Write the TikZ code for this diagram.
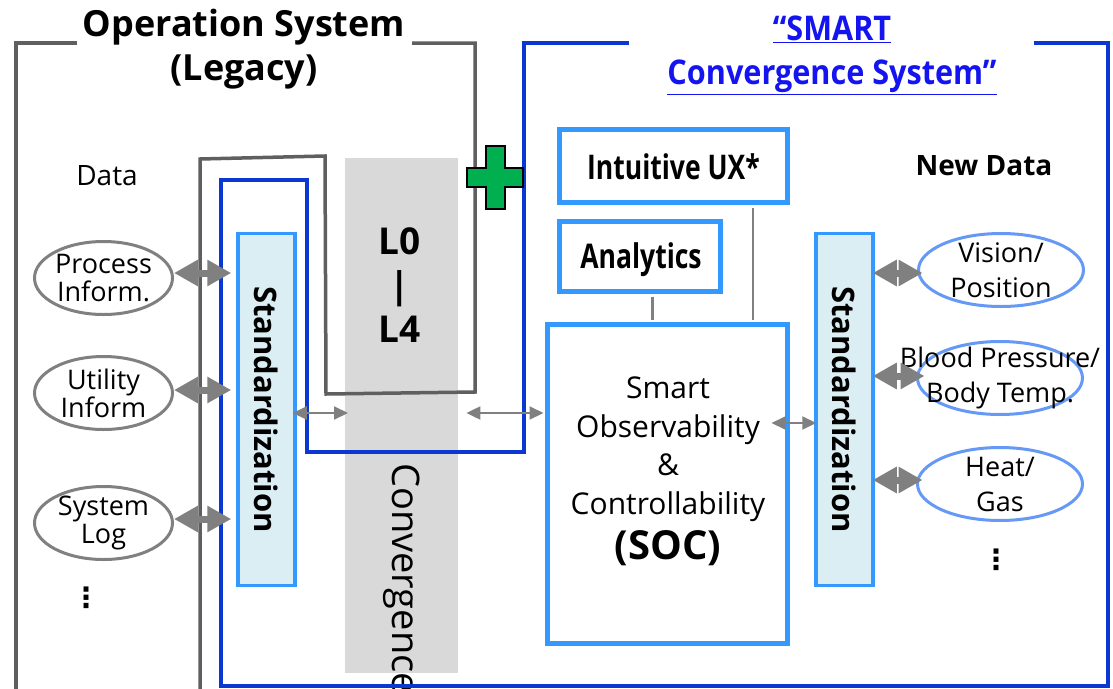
\documentclass[tikz,border=0pt]{standalone}
\usepackage{fontspec}
\setmainfont{Open Sans}
\newfontfamily\titlefont[FakeStretch=0.9]{Open Sans}
\newfontfamily\uxfont[FakeStretch=0.78]{Open Sans}
\newfontfamily\symfont{DejaVu Sans}
\usetikzlibrary{arrows.meta,shapes.geometric}
\newcommand\myfs[2]{\fontsize{#1}{#2}\selectfont}
\definecolor{dgray}{HTML}{5F5F5F}
\definecolor{dblue}{HTML}{0A38D0}
\definecolor{lblue}{HTML}{3399FF}
\definecolor{stdfill}{HTML}{DAEEF3}
\definecolor{eblue}{HTML}{6699F5}
\definecolor{agray}{HTML}{808080}
\definecolor{bandgray}{HTML}{D9D9D9}
\definecolor{tblue}{HTML}{1414F0}
\definecolor{cgreen}{HTML}{00B050}
\begin{document}
\begin{tikzpicture}[x=1pt,y=-1pt,
  legacy/.style={draw=dgray,line width=3.5pt},
  smart/.style={draw=dblue,line width=3.5pt},
  stdbox/.style={draw=lblue,fill=stdfill,line width=3.5pt,minimum width=57pt,minimum height=352pt,inner sep=0pt},
  funcbox/.style={draw=lblue,line width=5pt,fill=white,inner sep=0pt},
  oldell/.style={ellipse,draw=agray,line width=3pt,minimum width=138pt,minimum height=73pt,inner sep=0pt},
  newell/.style={ellipse,draw=eblue,line width=3pt,minimum width=165pt,minimum height=73pt,inner sep=0pt},
  bigarrow/.style={draw=agray,line width=7pt,{Triangle[length=24pt,width=25pt]}-{Triangle[length=24pt,width=25pt]}},
  thinarrow/.style={draw=agray,line width=2pt,{Triangle[length=14pt,width=13pt]}-{Triangle[length=14pt,width=13pt]}},
  link/.style={draw=agray,line width=2.5pt},
  lbl/.style={align=center,inner sep=0pt},
]
\path[use as bounding box] (0,0) rectangle (1113,688);
\clip (0,0) rectangle (1113,688);
\fill[white] (0,0) rectangle (1113,688);

% convergence band
\node[fill=bandgray,minimum width=113pt,minimum height=515pt,inner sep=0pt,anchor=north west] (conv) at (345,158) {};
\node[lbl,font=\bfseries\myfs{37}{44}] (levels) at (400,285) {L0\\|\\L4};
\node[rotate=-90,anchor=west,inner sep=0pt,font=\myfs{38}{38}] (convtext) at (402,463) {Convergence};

% legacy outline
\draw[legacy] (77,43) -- (16,43) -- (16,700);
\draw[legacy] (412,43) -- (475,43) -- (475,392) -- (326,394) -- (325,156) -- (200,159) -- (200,700);
\node[lbl,font=\bfseries\myfs{36}{44}] (legtitle) at (244,49) {Operation System\\(Legacy)};

% smart outline
\draw[smart] (629,43) -- (524,43) -- (524,452) -- (307,452) -- (307,180) -- (221,180) -- (221,686) -- (1108,686) -- (1108,43) -- (1034,43);
\node[lbl,text=tblue,font=\titlefont\bfseries\myfs{34}{44}] (smtitle) at (832,55) {\underline{“SMART}\\\underline{Convergence System”}};

% standardization boxes
\node[stdbox] (stdL) at (266.5,409.5) {};
\node[rotate=-90,inner sep=0pt,font=\bfseries\myfs{31}{31}] (stdLt) at (stdL.center) {Standardization};
\node[stdbox] (stdR) at (844.5,409.5) {};
\node[rotate=-90,inner sep=0pt,font=\bfseries\myfs{31}{31}] (stdRt) at (stdR.center) {Standardization};

% function boxes
\node[funcbox,minimum width=228pt,minimum height=73pt] (ux) at (673.5,166) {};
\node[lbl,font=\uxfont\bfseries\myfs{34}{34}] (uxt) at (673.5,167) {Intuitive UX*};
\node[funcbox,minimum width=161pt,minimum height=70pt] (an) at (640,256.5) {};
\node[lbl,font=\uxfont\bfseries\myfs{34}{34}] (ant) at (641,260) {Analytics};
\node[funcbox,minimum width=240pt,minimum height=319pt] (soc) at (667.5,484) {};
\node[lbl,font=\myfs{30}{38.5}] (soct) at (668,449) {Smart\\Observability\\\&\\Controllability};
\node[lbl,font=\bfseries\myfs{40}{40}] (socabbr) at (668,548) {(SOC)};
\draw[link,shorten <=2.5pt,shorten >=2.5pt] ([xshift=12.5pt]an.south) -- ([xshift=12.5pt]an.south |- soc.north);
\draw[link,shorten <=2.5pt,shorten >=2.5pt] ([xshift=79.5pt]ux.south) -- ([xshift=79.5pt]ux.south |- soc.north);

% data labels
\node[lbl,font=\myfs{28}{28}] (data) at (107,176) {Data};
\node[lbl,font=\bfseries\myfs{28}{28}] (newdata) at (984,166) {New Data};

% legacy data ellipses
\node[oldell] (proc) at (103.5,278) {};
\node[lbl,font=\myfs{27}{28}] (proct) at (proc.center) {Process\\Inform.};
\node[oldell] (util) at (103.5,393) {};
\node[lbl,font=\myfs{27}{28}] (utilt) at (util.center) {Utility\\Inform};
\node[oldell] (slog) at (103.5,523) {};
\node[lbl,font=\myfs{27}{28}] (slogt) at (slog.center) {System\\Log};
\node[lbl,font=\symfont\bfseries\myfs{28}{28}] (dotsL) at (86,598) {⋮};

% new data ellipses
\node[newell] (vis) at (1001,270) {};
\node[lbl,font=\myfs{27}{35}] (vist) at (vis.center) {Vision/\\Position};
\node[newell] (bp) at (1000,378) {};
\node[lbl,font=\myfs{27}{35}] (bpt) at (bp.center) {Blood Pressure/\\Body Temp.};
\node[newell] (heat) at (1000,484) {};
\node[lbl,font=\myfs{27}{35}] (heatt) at (heat.center) {Heat/\\Gas};
\node[lbl,font=\symfont\bfseries\myfs{28}{28}] (dotsR) at (996,560) {⋮};

% big arrows
\draw[bigarrow,shorten >=5pt] ([yshift=5pt]proc.east) -- ([yshift=5pt]proc.east -| stdL.west);
\draw[bigarrow,shorten >=5pt] ([yshift=3pt]util.east) -- ([yshift=3pt]util.east -| stdL.west);
\draw[bigarrow,shorten >=5pt] ([yshift=4pt]slog.east) -- ([yshift=4pt]slog.east -| stdL.west);
\draw[bigarrow,shorten <=-2pt,shorten >=-5.5pt] ([yshift=-3pt]vis.west -| stdR.east) -- ([yshift=-3pt]vis.west);
\draw[bigarrow,shorten <=-2pt,shorten >=-8.5pt] ([yshift=2pt]bp.west -| stdR.east) -- ([yshift=2pt]bp.west);
\draw[bigarrow,shorten <=-2pt,shorten >=-6.5pt] ([yshift=4pt]heat.west -| stdR.east) -- ([yshift=4pt]heat.west);

% thin arrows
\coordinate (rowA) at (0,413);
\coordinate (rowB) at (0,423);
\draw[thinarrow,shorten <=-4pt,shorten >=-3pt] (stdL.east |- rowA) -- (conv.west |- rowA);
\draw[thinarrow,shorten <=8pt,shorten >=1.5pt] (conv.east |- rowA) -- (soc.west |- rowA);
\draw[thinarrow,shorten <=-18.5pt,shorten >=-2pt] (soc.east |- rowB) -- (stdR.west |- rowB);

% green plus
\draw[fill=cgreen,draw=black,line width=1.5pt] (486,146) -- (505,146) -- (505,168) -- (523,168) -- (523,187) -- (505,187) -- (505,209) -- (486,209) -- (486,187) -- (467,187) -- (467,168) -- (486,168) -- cycle;
\end{tikzpicture}
\end{document}
